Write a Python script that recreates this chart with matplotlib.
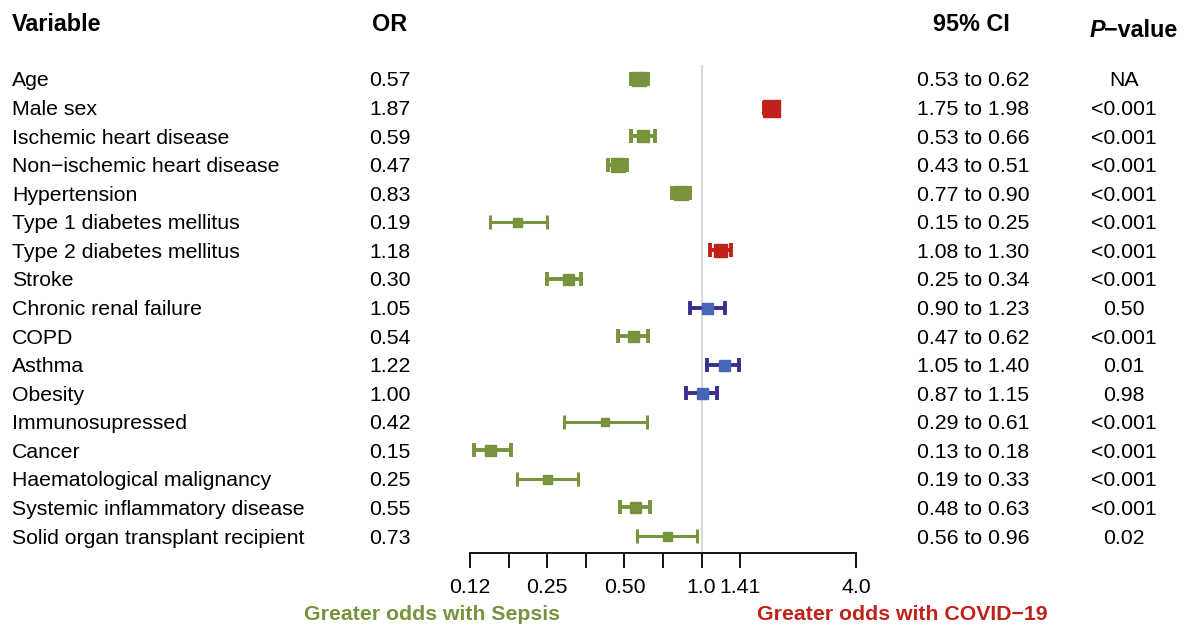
import matplotlib
matplotlib.use('Agg')
import matplotlib.pyplot as plt
from matplotlib.transforms import blended_transform_factory
from matplotlib.ticker import NullFormatter

plt.rcParams['font.family'] = ['Liberation Sans', 'DejaVu Sans']
plt.rcParams['axes.unicode_minus'] = True

# data
variables = ['Age', 'Male sex', 'Ischemic heart disease', 'Non\u2212ischemic heart disease',
             'Hypertension', 'Type 1 diabetes mellitus', 'Type 2 diabetes mellitus', 'Stroke',
             'Chronic renal failure', 'COPD', 'Asthma', 'Obesity', 'Immunosupressed', 'Cancer',
             'Haematological malignancy', 'Systemic inflammatory disease',
             'Solid organ transplant recipient']
odds = [0.57, 1.87, 0.59, 0.47, 0.83, 0.19, 1.18, 0.30, 1.05, 0.54, 1.22, 1.00, 0.42, 0.15,
        0.25, 0.55, 0.73]
ci_low = [0.53, 1.75, 0.53, 0.43, 0.77, 0.15, 1.08, 0.25, 0.90, 0.47, 1.05, 0.87, 0.29, 0.13,
          0.19, 0.48, 0.56]
ci_high = [0.62, 1.98, 0.66, 0.51, 0.90, 0.25, 1.30, 0.34, 1.23, 0.62, 1.40, 1.15, 0.61, 0.18,
           0.33, 0.63, 0.96]
p_values = ['NA', '<0.001', '<0.001', '<0.001', '<0.001', '<0.001', '<0.001', '<0.001', '0.50',
            '<0.001', '0.01', '0.98', '<0.001', '<0.001', '<0.001', '<0.001', '0.02']
group = ['sepsis', 'covid', 'sepsis', 'sepsis', 'sepsis', 'sepsis', 'covid', 'sepsis', 'ns',
         'sepsis', 'ns', 'ns', 'sepsis', 'sepsis', 'sepsis', 'sepsis', 'sepsis']
tick_vals = [0.125, 0.25, 0.5, 1.0, 1.41, 4.0]
tick_labels = ['0.12', '0.25', '0.50', '1.0', '1.41', '4.0']
minor_vals = [0.177, 0.354, 0.707]

# box size in pixels (weight of each estimate)
box_px = [14, 17, 12, 14, 14, 9, 13, 11, 11, 11, 11, 11, 8, 11, 9, 11, 9]

GREEN = '#77933C'
RED = '#C0221B'
BLUE = '#4667B8'
NAVY = '#3A2E8E'
box_col = {'sepsis': GREEN, 'covid': RED, 'ns': BLUE}
bar_col = {'sepsis': GREEN, 'covid': RED, 'ns': NAVY}

W, H = 1187, 627
fig = plt.figure(figsize=(W / 100, H / 100), dpi=100)
ax = fig.add_axes([470 / W, 1 - 553 / H, 386 / W, (553 - 65) / H])
ax.set_xscale('log', base=2)
ax.set_xlim(0.125, 4.0)
ax.set_ylim(16.595, -0.49)

ax.axvline(1.0, color='#d4d4d4', lw=1.3, zorder=0)

n = len(variables)
for i in range(n):
    g = group[i]
    lw = 2.2 if box_px[i] <= 9 else 2.8
    ax.errorbar(odds[i], i, xerr=[[odds[i] - ci_low[i]], [ci_high[i] - odds[i]]],
                fmt='s', color=bar_col[g], mfc=box_col[g], mec=box_col[g],
                ms=box_px[i] * 0.72, elinewidth=lw, capsize=5, capthick=lw,
                clip_on=False, zorder=3)

for s in ['top', 'right', 'left']:
    ax.spines[s].set_visible(False)
ax.spines['bottom'].set_linewidth(1.3)
ax.set_yticks([])
ax.set_xticks(tick_vals + minor_vals)
ax.set_xticklabels(tick_labels + [''] * len(minor_vals))
ax.xaxis.set_minor_formatter(NullFormatter())
ax.tick_params(axis='x', which='minor', length=0)
ax.tick_params(axis='x', which='major', length=11, width=1.3, pad=7, labelsize=15.3,
               direction='out')

tr = blended_transform_factory(fig.transFigure, ax.transData)
fs = 15.3
hfs = 16.8
for i in range(n):
    ax.text(12 / W, i, variables[i], transform=tr, fontsize=fs, va='center_baseline', ha='left')
    ax.text(369 / W, i, f'{odds[i]:.2f}', transform=tr, fontsize=fs, va='center_baseline',
            ha='left')
    ax.text(973 / W, i, f'{ci_low[i]:.2f} to {ci_high[i]:.2f}', transform=tr, fontsize=fs,
            va='center_baseline', ha='center')
    ax.text(1124 / W, i, p_values[i], transform=tr, fontsize=fs, va='center_baseline',
            ha='center')

ax.text(12 / W, -1.98, 'Variable', transform=tr, fontsize=hfs, fontweight='bold',
        va='center_baseline', ha='left')
ax.text(372 / W, -1.98, 'OR', transform=tr, fontsize=hfs, fontweight='bold',
        va='center_baseline', ha='left')
ax.text(971 / W, -1.98, '95% CI', transform=tr, fontsize=hfs, fontweight='bold',
        va='center_baseline', ha='center')
ax.text(1105 / W, -1.78, 'P', transform=tr, fontsize=hfs, fontweight='bold', style='italic',
        va='center_baseline', ha='right')
ax.text(1104 / W, -1.78, '\u2212value', transform=tr, fontsize=hfs, fontweight='bold',
        va='center_baseline', ha='left')

fig.text(432 / W, 1 - 615 / H, 'Greater odds with Sepsis', color=GREEN, fontsize=fs,
         fontweight='bold', ha='center', va='center')
fig.text(902 / W, 1 - 615 / H, 'Greater odds with COVID\u221219', color=RED, fontsize=fs,
         fontweight='bold', ha='center', va='center')

fig.savefig('out.png', dpi=100)
